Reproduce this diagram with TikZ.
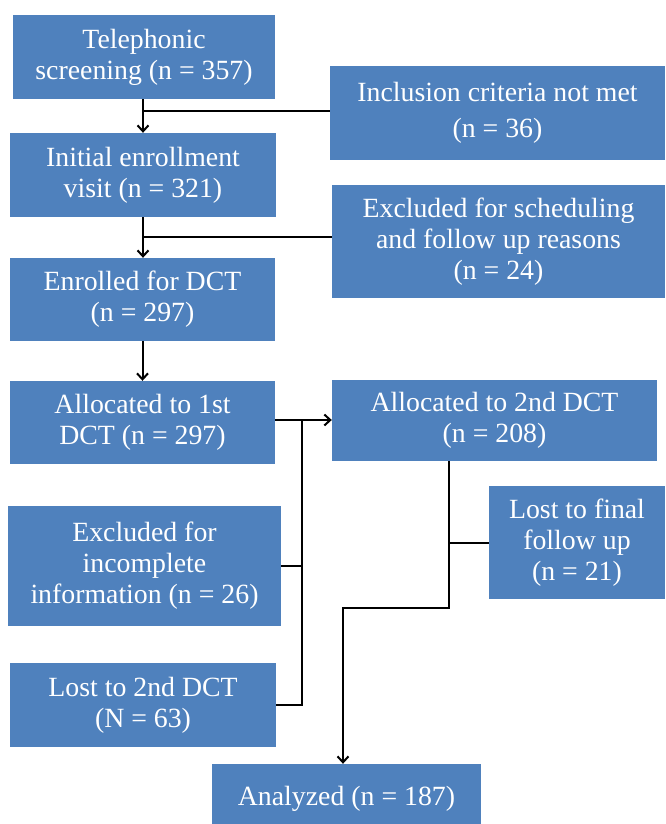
\documentclass[tikz,border=0pt]{standalone}
\usepackage{fontspec}
\setmainfont{Liberation Serif}
\usetikzlibrary{arrows.meta,calc}
\definecolor{boxblue}{HTML}{4F81BD}
\begin{document}
\begin{tikzpicture}[x=1pt,y=-1pt,
  box/.style={fill=boxblue,draw=none,text=white,align=center,inner sep=0pt,
    font=\fontsize{27.8}{31}\selectfont,execute at begin node={\rule{0pt}{29pt}}},
  conn/.style={draw=black,line width=2pt},
  arr/.style={conn,-{Straight Barb[length=6pt,width=11pt]}}]
\useasboundingbox (0,0) rectangle (665,824);
\node[box,minimum width=262,minimum height=84] (tel) at (144,57) {Telephonic\\screening (n = 357)};
\node[box,minimum width=335,minimum height=94] (incl) at (497.5,113) {Inclusion criteria not met\\[5pt](n = 36)};
\node[box,minimum width=266,minimum height=84] (init) at (143,175) {Initial enrollment\\visit (n = 321)};
\node[box,minimum width=333,minimum height=113] (excl1) at (498.5,241.5) {Excluded for scheduling\\and follow up reasons\\(n = 24)};
\node[box,minimum width=265,minimum height=83] (enr) at (142.5,299.5) {Enrolled for DCT\\(n = 297)};
\node[box,minimum width=265,minimum height=83] (alloc1) at (142.5,422.5) {Allocated to 1st\\DCT (n = 297)};
\node[box,minimum width=325,minimum height=81] (alloc2) at (494.5,420.5) {Allocated to 2nd DCT\\(n = 208)};
\node[box,minimum width=273,minimum height=120] (excl2) at (144.5,566) {Excluded for\\incomplete\\information (n = 26)};
\node[box,minimum width=266,minimum height=84] (lost2) at (143,705) {Lost to 2nd DCT\\(N = 63)};
\node[box,minimum width=176,minimum height=113] (lostf) at (577,542.5) {Lost to final\\follow up\\(n = 21)};
\node[box,minimum width=269,minimum height=60] (anal) at (346.5,794) {Analyzed (n = 187)};
% top chain
\draw[arr] ([xshift=-1pt]tel.south) -- ([xshift=-1pt]tel.south |- init.north);
\draw[conn] ([yshift=2pt]incl.west) -- ([yshift=2pt]incl.west -| init.north);
\draw[arr] (init.south) -- (init.south |- enr.north);
\draw[conn] ([yshift=4.5pt]excl1.west) -- ([yshift=4.5pt]excl1.west -| init.south);
\draw[arr] (enr.south) -- (enr.south |- alloc1.north);
% allocation
\coordinate (bus) at (302,420);
\draw[arr] (alloc1.east |- bus) -- (alloc2.west |- bus);
\draw[conn] (excl2.east) -- (excl2.east -| bus);
\draw[conn] (lost2.east) -- (lost2.east -| bus) -- (bus);
% second DCT to analyzed
\coordinate (a2s) at ([xshift=-45.5pt]alloc2.south);
\coordinate (b1) at (449,608);
\coordinate (b2) at (343,608);
\draw[conn] (lostf.west) -- (lostf.west -| a2s);
\draw[arr] (a2s) -- (b1) -- (b2) -- (b2 |- anal.north);
\end{tikzpicture}
\end{document}
